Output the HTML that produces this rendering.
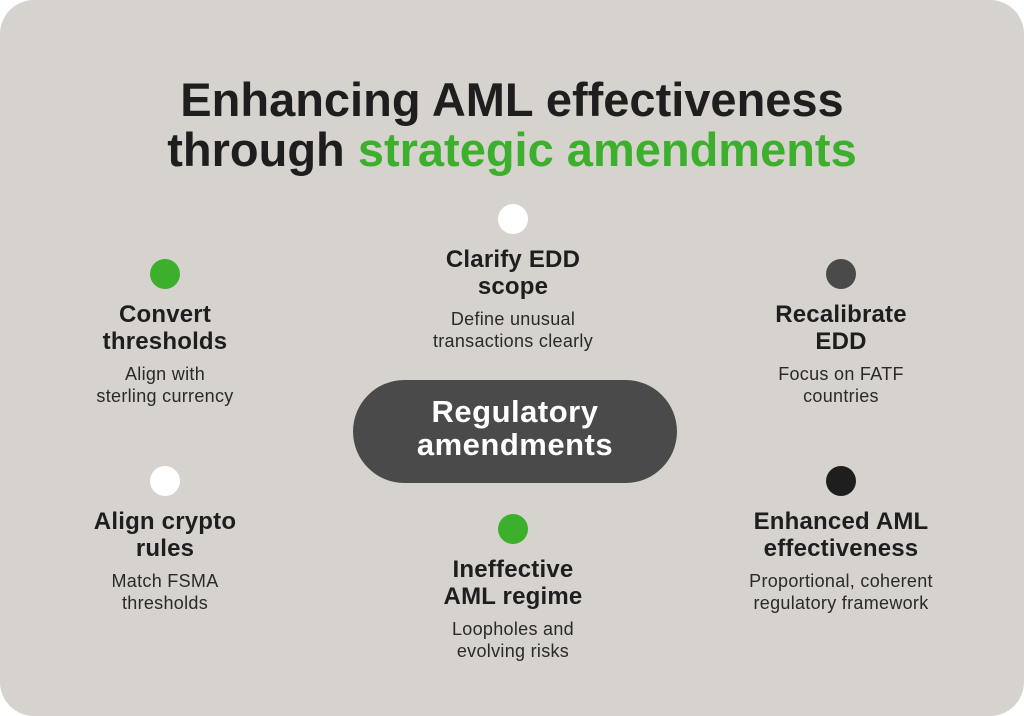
<!DOCTYPE html>
<html><head><meta charset="utf-8"><style>
html,body{margin:0;padding:0;background:#fff;}
.card{position:absolute;left:0;top:0;width:1024px;height:716px;background:#d6d2cd;border-radius:34px;overflow:hidden;font-family:"Liberation Sans",sans-serif;color:#1e1e1e;}
.title{position:absolute;left:0;width:1024px;top:75px;text-align:center;font-weight:bold;font-size:47px;line-height:50px;letter-spacing:0px;}
.g{color:#3cb02c;}
.item{position:absolute;width:300px;text-align:center;}
.dot{width:30px;height:30px;border-radius:50%;margin:0 auto;}
.t{margin-top:12px;font-weight:bold;font-size:24px;line-height:27px;letter-spacing:0.2px;}
.s{margin-top:8px;font-size:18px;line-height:22px;color:#2a2a2a;letter-spacing:0.3px;}
.pill{position:absolute;left:353px;top:380px;width:324px;height:103px;border-radius:52px;background:#4a4a4a;color:#fff;text-align:center;font-weight:bold;font-size:31px;line-height:33px;letter-spacing:0.5px;box-sizing:border-box;padding-top:15px;}
</style></head><body>
<div class="card">
<div class="title">Enhancing AML effectiveness<br>through <span class="g">strategic amendments</span></div>

<div class="item" style="left:15px;top:259px"><div class="dot" style="background:#3cb02c"></div><div class="t">Convert<br>thresholds</div><div class="s">Align with<br>sterling currency</div></div>
<div class="item" style="left:363px;top:204px"><div class="dot" style="background:#fff"></div><div class="t">Clarify EDD<br>scope</div><div class="s">Define unusual<br>transactions clearly</div></div>
<div class="item" style="left:691px;top:259px"><div class="dot" style="background:#4a4a4a"></div><div class="t">Recalibrate<br>EDD</div><div class="s">Focus on FATF<br>countries</div></div>
<div class="item" style="left:15px;top:466px"><div class="dot" style="background:#fff"></div><div class="t">Align crypto<br>rules</div><div class="s">Match FSMA<br>thresholds</div></div>
<div class="item" style="left:363px;top:514px"><div class="dot" style="background:#3cb02c"></div><div class="t">Ineffective<br>AML regime</div><div class="s">Loopholes and<br>evolving risks</div></div>
<div class="item" style="left:691px;top:466px"><div class="dot" style="background:#1e1e1e"></div><div class="t">Enhanced AML<br>effectiveness</div><div class="s">Proportional, coherent<br>regulatory framework</div></div>

<div class="pill">Regulatory<br>amendments</div>
</div>
</body></html>
